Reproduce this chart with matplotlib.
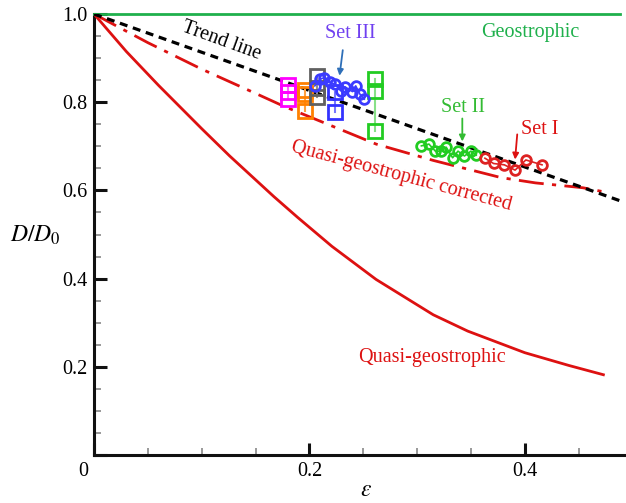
import matplotlib
matplotlib.use("Agg")
import matplotlib.pyplot as plt
from matplotlib.ticker import MultipleLocator

plt.rcParams['font.family'] = ['Liberation Serif', 'DejaVu Serif']
plt.rcParams['mathtext.fontset'] = 'stix'

# ---- data ----
eps_geo = [0.0, 0.488]
d_geo = [1.0, 1.0]

eps_trend = [0.0, 0.489]
d_trend = [1.0, 0.576]

eps_qg = [0.0, 0.03, 0.06, 0.10, 0.126, 0.167, 0.189, 0.221, 0.262, 0.315, 0.347, 0.40, 0.441, 0.473]
d_qg = [1.0, 0.915, 0.838, 0.74, 0.678, 0.586, 0.539, 0.473, 0.398, 0.318, 0.281, 0.232, 0.203, 0.182]

eps_qgc = [0.0, 0.05, 0.10, 0.15, 0.177, 0.20, 0.262, 0.315, 0.378, 0.41, 0.454, 0.473]
d_qgc = [1.0, 0.935, 0.875, 0.82, 0.79, 0.767, 0.705, 0.668, 0.629, 0.617, 0.606, 0.597]

eps_set3 = [0.205, 0.210, 0.214, 0.219, 0.224, 0.229, 0.233, 0.240, 0.243, 0.247, 0.251]
d_set3 = [0.837, 0.852, 0.856, 0.845, 0.841, 0.826, 0.835, 0.824, 0.837, 0.818, 0.807]

eps_set2 = [0.304, 0.311, 0.317, 0.322, 0.327, 0.333, 0.338, 0.344, 0.350, 0.355]
d_set2 = [0.701, 0.705, 0.689, 0.689, 0.698, 0.674, 0.689, 0.678, 0.689, 0.680]

eps_set1 = [0.363, 0.371, 0.381, 0.391, 0.401, 0.416]
d_set1 = [0.673, 0.661, 0.658, 0.646, 0.669, 0.658]

square_groups = [
    (0.180, [0.839, 0.824, 0.807], '#ff00ff', '#ff66ff'),
    (0.196, [0.828, 0.818, 0.779], '#ff8000', '#ffa040'),
    (0.207, [0.860, 0.833, 0.811], '#606060', '#909090'),
    (0.224, [0.822, 0.777], '#3333ff', '#7777ff'),
    (0.261, [0.852, 0.826, 0.735], '#22cc22', '#88e088'),
]

# ---- figure ----
fig = plt.figure(figsize=(6.26, 5.03), dpi=100)
ax = fig.add_axes([94/626, 48/503, 532/626, 441/503])
ax.set_xlim(0, 0.494)
ax.set_ylim(0, 1.0)

red = '#dd1111'
ax.plot(eps_geo, d_geo, color='#1fb04c', lw=2.0, clip_on=False, zorder=3)
ax.plot(eps_qg, d_qg, color=red, lw=2.0, zorder=3)
ax.plot(eps_qgc, d_qgc, color=red, lw=2.0, dashes=(9, 3, 1.5, 3), zorder=3)
ax.plot(eps_trend, d_trend, color='black', lw=2.3, dashes=(2.5, 1.8), zorder=4)

for x, ys, c, lc in square_groups:
    ax.plot([x] * len(ys), ys, color=lc, lw=1.5, zorder=5)
    ax.plot([x] * len(ys), ys, ls='none', marker='s', ms=10, mfc='none',
            mec=c, mew=2, zorder=6)

ax.plot(eps_set3, d_set3, '-o', color='#3b3bff', lw=1.2, ms=7, mfc='none', mew=2, zorder=7)
ax.plot(eps_set2, d_set2, '-o', color='#22cc22', lw=1.2, ms=7, mfc='none', mew=2, zorder=7)
ax.plot(eps_set1, d_set1, '-o', color='#dd2222', lw=1.2, ms=7, mfc='none', mew=2, zorder=7)

fs = 14.5
ax.text(0.405, 0.959, 'Geostrophic', color='#1fb04c', fontsize=fs, ha='center', va='center')
ax.text(0.118, 0.939, 'Trend line', color='black', fontsize=fs, ha='center', va='center', rotation=-20)
ax.text(0.238, 0.955, 'Set III', color='#7040f0', fontsize=fs, ha='center', va='center')
ax.text(0.343, 0.789, 'Set II', color='#33bb33', fontsize=fs, ha='center', va='center')
ax.text(0.414, 0.739, 'Set I', color=red, fontsize=fs, ha='center', va='center')
ax.text(0.285, 0.632, 'Quasi-geostrophic corrected', color=red, fontsize=fs,
        ha='center', va='center', rotation=-15)
ax.text(0.314, 0.220, 'Quasi-geostrophic', color=red, fontsize=fs, ha='center', va='center')

arrow_kw = dict(arrowstyle='-|>', lw=1.3, mutation_scale=9, shrinkA=0, shrinkB=0)
ax.annotate('', xy=(0.228, 0.860), xytext=(0.231, 0.918),
            arrowprops=dict(color='#2e6fb8', **arrow_kw))
ax.annotate('', xy=(0.342, 0.711), xytext=(0.342, 0.763),
            arrowprops=dict(color='#33bb33', **arrow_kw))
ax.annotate('', xy=(0.391, 0.670), xytext=(0.393, 0.727),
            arrowprops=dict(color=red, **arrow_kw))

# axes styling
for s in ['top', 'right']:
    ax.spines[s].set_visible(False)
for s in ['left', 'bottom']:
    ax.spines[s].set_linewidth(2.2)
    ax.spines[s].set_color('#111111')

ax.xaxis.set_major_locator(MultipleLocator(0.2))
ax.xaxis.set_minor_locator(MultipleLocator(0.05))
ax.yaxis.set_major_locator(MultipleLocator(0.2))
ax.yaxis.set_minor_locator(MultipleLocator(0.05))
ax.tick_params(which='major', direction='in', length=9, width=2.2, color='#111111',
               labelsize=14.5, pad=5)
ax.tick_params(which='minor', direction='in', length=5, width=1.2, color='#888888')
ax.set_xticks([0, 0.2, 0.4])
ax.set_xticklabels(['', '0.2', '0.4'])
ax.set_yticks([0, 0.2, 0.4, 0.6, 0.8, 1.0])
ax.set_yticklabels(['', '0.2', '0.4', '0.6', '0.8', '1.0'])
ax.annotate('0', xy=(0, 0), xycoords='data', xytext=(-4, -5), textcoords='offset points',
            ha='right', va='top', fontsize=14.5)

fig.text(366/626, 1 - 490/503, r'$\varepsilon$', fontsize=17, ha='center', va='center')
fig.text(35/626, 1 - 235/503, r'$D/D_0$', fontsize=17, ha='center', va='center')

fig.savefig('out.png', dpi=100)
